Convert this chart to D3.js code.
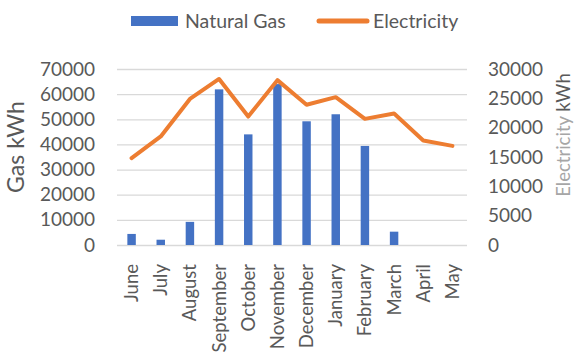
<!DOCTYPE html>
<html>
<head>
<meta charset="utf-8">
<script src="https://cdn.jsdelivr.net/npm/d3@7"></script>
<style>
  html, body { margin: 0; padding: 0; background: #fff; }
  svg { display: block; font-family: Lato, "Open Sans", sans-serif; }
</style>
</head>
<body>
<svg id="chart" width="579" height="358"></svg>
<script>
// Monthly energy use
const months = ["June", "July", "August", "September", "October", "November",
                "December", "January", "February", "March", "April", "May"];
const gasKWh = [4400, 2100, 9200, 61900, 44000, 64000, 49200, 52000, 39400, 5300, 0, 0];
const electricityKWh = [14800, 18500, 24900, 28300, 21900, 28100, 23900, 25200, 21500, 22400, 17800, 16900];
const gasTicks = [0, 10000, 20000, 30000, 40000, 50000, 60000, 70000];
const elecTicks = [0, 5000, 10000, 15000, 20000, 25000, 30000];

const svg = d3.select("#chart");
const plot = { left: 117, right: 467, top: 69, bottom: 245 };
const textColor = "#595959";

const x = d3.scaleBand().domain(months).range([plot.left, plot.right]).paddingInner(0.71).paddingOuter(0.355);
const xc = d3.scaleBand().domain(months).range([plot.left, plot.right]);
const yGas = d3.scaleLinear().domain([0, 70000]).range([plot.bottom, plot.top]);
const yElec = d3.scaleLinear().domain([0, 30000]).range([plot.bottom, plot.top]);

// Gridlines
svg.append("g")
  .attr("transform", `translate(${plot.left},0)`)
  .call(d3.axisLeft(yGas).tickValues(gasTicks).tickSize(-(plot.right - plot.left)).tickFormat(""))
  .call(g => g.select(".domain").remove())
  .call(g => g.selectAll("line").attr("stroke", "#d9d9d9").attr("stroke-width", 1.3));

// Left axis labels
svg.append("g")
  .attr("transform", `translate(${plot.left},0)`)
  .call(d3.axisLeft(yGas).tickValues(gasTicks).tickSize(0).tickPadding(22).tickFormat(d3.format("d")))
  .call(g => g.select(".domain").remove())
  .call(g => g.selectAll("text").attr("fill", textColor).style("font-size", "19px").style("font-family", "Lato, sans-serif"));

// Right axis labels
svg.append("g")
  .attr("transform", `translate(${plot.right},0)`)
  .call(d3.axisRight(yElec).tickValues(elecTicks).tickSize(0).tickPadding(21).tickFormat(d3.format("d")))
  .call(g => g.select(".domain").remove())
  .call(g => g.selectAll("text").attr("fill", textColor).style("font-size", "19px").style("font-family", "Lato, sans-serif"));

// Category axis labels
svg.append("g")
  .attr("transform", `translate(0,${plot.bottom})`)
  .call(d3.axisBottom(xc).tickSize(0).tickPadding(0))
  .call(g => g.select(".domain").remove())
  .call(g => g.selectAll("text")
    .attr("fill", textColor)
    .style("font-size", "18.5px")
    .style("font-family", "Lato, sans-serif")
    .attr("text-anchor", "end")
    .attr("dy", "0.35em")
    .attr("transform", "translate(0,19) rotate(-90)")
    .attr("x", 0).attr("y", 0));

// Gas bars
svg.append("g").selectAll("rect")
  .data(months.map((m, i) => ({ m, v: gasKWh[i] })).filter(d => d.v > 0))
  .join("rect")
  .attr("x", d => x(d.m))
  .attr("width", x.bandwidth())
  .attr("y", d => yGas(d.v))
  .attr("height", d => yGas(0) - yGas(d.v))
  .attr("fill", "#4472c4");

// Electricity line
const line = d3.line()
  .x((d, i) => xc(months[i]) + xc.bandwidth() / 2)
  .y(d => yElec(d));
svg.append("path")
  .datum(electricityKWh)
  .attr("d", line)
  .attr("fill", "none")
  .attr("stroke", "#ed7d31")
  .attr("stroke-width", 4)
  .attr("stroke-linejoin", "round")
  .attr("stroke-linecap", "round");

// Axis titles
svg.append("text")
  .attr("transform", "translate(24,147) rotate(-90)")
  .attr("text-anchor", "middle")
  .attr("fill", textColor)
  .style("font-size", "23px")
  .text("Gas kWh");

const rTitle = svg.append("text")
  .attr("transform", "translate(570,135) rotate(-90)")
  .attr("text-anchor", "middle")
  .style("font-size", "18.5px");
rTitle.append("tspan").attr("fill", "#a6a6a6").text("Electricity ");
rTitle.append("tspan").attr("fill", textColor).text("kWh");

// Legend
const legend = svg.append("g");
legend.append("rect").attr("x", 131).attr("y", 16).attr("width", 47).attr("height", 10).attr("fill", "#4472c4");
legend.append("text").attr("x", 185).attr("y", 27.5).attr("fill", textColor).style("font-size", "19.5px").text("Natural Gas");
legend.append("line").attr("x1", 319).attr("x2", 367).attr("y1", 21).attr("y2", 21)
  .attr("stroke", "#ed7d31").attr("stroke-width", 5).attr("stroke-linecap", "round");
legend.append("text").attr("x", 373).attr("y", 27.5).attr("fill", textColor).style("font-size", "19.5px").text("Electricity");
</script>
</body>
</html>
